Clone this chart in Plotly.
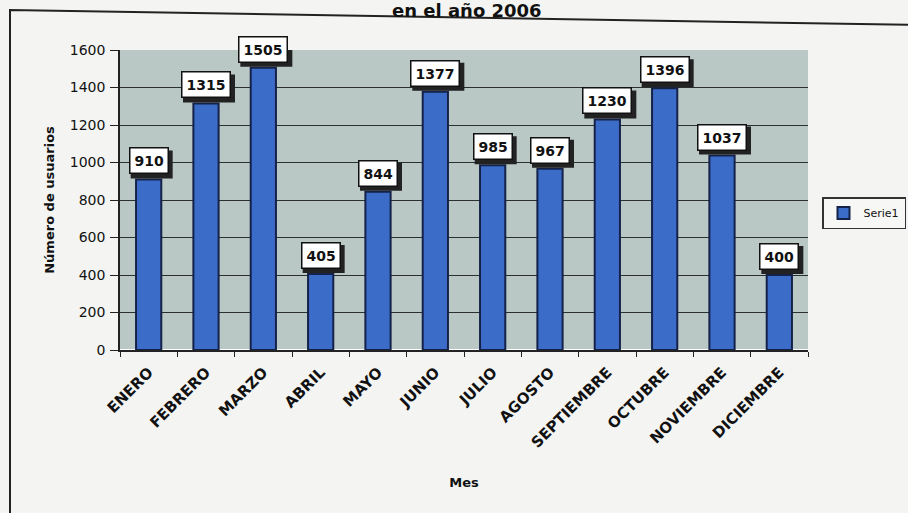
import plotly.graph_objects as go

meses = ["ENERO", "FEBRERO", "MARZO", "ABRIL", "MAYO", "JUNIO", "JULIO",
         "AGOSTO", "SEPTIEMBRE", "OCTUBRE", "NOVIEMBRE", "DICIEMBRE"]
usuarios = [910, 1315, 1505, 405, 844, 1377, 985, 967, 1230, 1396, 1037, 400]
y_ticks = [0, 200, 400, 600, 800, 1000, 1200, 1400, 1600]

FONT = "DejaVu Sans, Verdana, sans-serif"

# plot area in pixels
L, R, T, B = 120, 808, 50, 350
PW, PH = R - L, B - T


def px(x):
    return (x - L) / PW


def py(y):
    return (B - y) / PH


fig = go.Figure()
fig.add_trace(go.Bar(
    x=meses, y=usuarios, name="Serie1",
    marker=dict(color="#3b6cc8", line=dict(color="#14224a", width=2)),
))

# drop shadows behind the data-label boxes (pixel-sized shapes anchored at each bar top)
for m, v in zip(meses, usuarios):
    w = 10 * len(str(v)) + 12
    fig.add_shape(type="rect", xref="x", yref="y",
                  xsizemode="pixel", ysizemode="pixel",
                  xanchor=m, yanchor=v,
                  x0=-w / 2 + 3, x1=w / 2 + 3, y0=1, y1=29,
                  fillcolor="#222", line=dict(width=0), layer="above")

# data labels
for m, v in zip(meses, usuarios):
    fig.add_annotation(
        x=m, y=v, text=f"<b>{v}</b>", showarrow=False,
        yanchor="bottom", yshift=5,
        bgcolor="white", bordercolor="#111", borderwidth=1.5, borderpad=4,
        font=dict(family=FONT, size=14, color="#111"),
    )

fig.add_annotation(
    xref="paper", yref="paper", x=px(467), y=py(10), yanchor="middle",
    text="<b>en el año 2006</b>", showarrow=False,
    font=dict(family=FONT, size=18, color="#111"),
)

# chart-area border (slightly skewed as in the scan)
fig.add_shape(type="path", xref="paper", yref="paper",
              path=f"M {px(10)},{py(530)} L {px(10)},{py(10)} L {px(920)},{py(25)}",
              line=dict(color="#222", width=2), layer="below")

fig.update_layout(
    width=908, height=513,
    margin=dict(l=L, r=908 - R, t=T, b=513 - B, autoexpand=False),
    paper_bgcolor="#f4f5f3",
    plot_bgcolor="#b9c7c5",
    bargap=0.56,
    showlegend=True,
    legend=dict(x=px(822), y=py(197), xanchor="left", yanchor="top",
                bgcolor="#f7f7f5", bordercolor="#333", borderwidth=1.5,
                font=dict(family=FONT, size=11, color="#111"),
                itemwidth=30, tracegroupgap=0),
    font=dict(family=FONT, color="#111"),
)

fig.update_xaxes(
    automargin=False,
    tickangle=-45, tickfont=dict(family=FONT, size=15, color="#111"),
    tickprefix="<b>", ticksuffix="</b>",
    tickson="boundaries",
    ticks="outside", ticklen=5, tickcolor="#222",
    ticklabelstandoff=6,
    showline=True, linecolor="#222", linewidth=1.5,
    title=dict(text="<b>Mes</b>", font=dict(family=FONT, size=13, color="#111"), standoff=27),
)
fig.update_yaxes(
    automargin=False,
    range=[0, 1600], tickvals=y_ticks,
    tickfont=dict(family=FONT, size=14, color="#111"),
    tickprefix="<b>", ticksuffix="</b>",
    ticks="outside", ticklen=8, tickcolor="#222",
    ticklabelstandoff=2,
    showline=True, linecolor="#222", linewidth=1.5,
    gridcolor="#2a3030", gridwidth=1.2,
    title=dict(text="<b>Número de usuarios</b>", font=dict(family=FONT, size=13, color="#111"), standoff=12),
)

fig.write_html(
    "out.html",
    config={"displayModeBar": False},
    post_script="document.body.style.margin='0';document.body.style.background='#f4f5f3';",
)
